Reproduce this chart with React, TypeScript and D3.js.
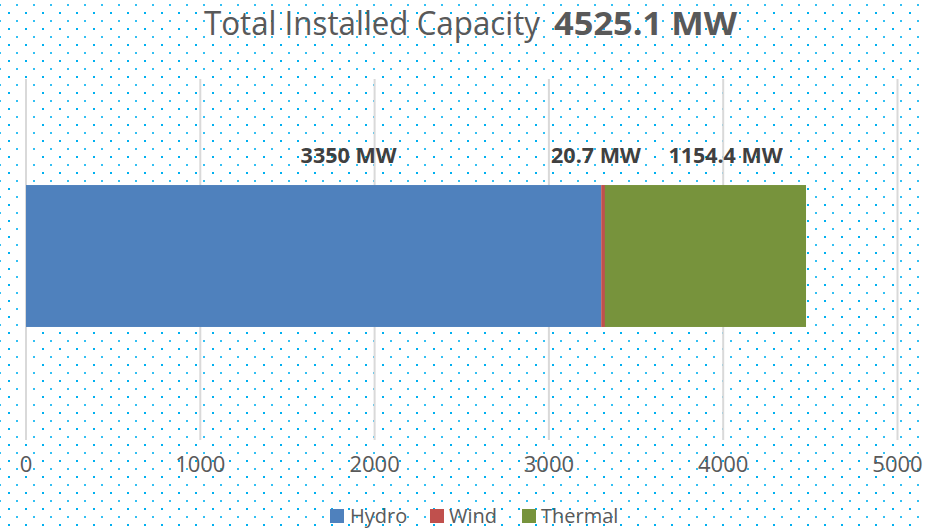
import React from "react";
import * as d3 from "d3";

const categories = ["Capacity"];
const seriesNames = ["Hydro", "Wind", "Thermal"];
const seriesValues = [3300, 20.7, 1154.4];
const seriesLabels = ["3350 MW", "20.7 MW", "1154.4 MW"];
const seriesColors = ["#4F81BD", "#C0504D", "#77933C"];
const tickValues = [0, 1000, 2000, 3000, 4000, 5000];
const titleMain = "Total Installed Capacity";
const titleBold = "4525.1 MW";

const W = 925;
const H = 528;
const labelOffsets = [35, -7, 20];
const labelLengths = [96, 90, 114];

export default function App() {
  const x = d3.scaleLinear().domain([0, 5000]).range([26, 897.5]);
  const p = 0.4276;
  const y = d3.scaleBand().domain(categories).range([79, 433]).paddingInner(p).paddingOuter(p);
  const stack = d3.stack<number[]>().keys(seriesNames.map((_, i) => String(i)))
    .value((d, k) => d[+k]);
  const stacked = stack([seriesValues]);
  const bw = y.bandwidth();
  const by = y(categories[0]) as number;

  const legendItems = [
    { sx: 330, tx: 350 },
    { sx: 430, tx: 449 },
    { sx: 522, tx: 541 },
  ];

  return (
    <svg width={W} height={H} style={{ position: "absolute", left: 0, top: 0 }}
      fontFamily="'Open Sans', sans-serif">
      <defs>
        <pattern id="dots" x={-1} y={0} width={17} height={16} patternUnits="userSpaceOnUse">
          <rect x={0} y={4} width={2} height={2} fill="#00B0F0" opacity={0.8} />
          <rect x={9} y={12} width={2} height={2} fill="#00B0F0" />
        </pattern>
      </defs>
      <rect x={0} y={0} width={W} height={H} fill="#ffffff" />
      <rect x={0} y={0} width={W} height={H} fill="url(#dots)" />

      {tickValues.map((t) => (
        <line key={"g" + t} x1={x(t)} x2={x(t)} y1={79} y2={440} stroke="#D9D9D9" strokeWidth={2} />
      ))}

      {stacked.map((s, i) => (
        <rect key={"b" + i} x={x(s[0][0])} width={Math.max(4, x(s[0][1]) - x(s[0][0]))} y={by} height={bw}
          fill={seriesColors[i]} />
      ))}

      {stacked.map((s, i) => (
        <text key={"l" + i} x={(x(s[0][0]) + x(s[0][1])) / 2 + labelOffsets[i]} y={163}
          textAnchor="middle" fontSize={22} fontWeight="bold" fill="#404040"
          textLength={labelLengths[i]} lengthAdjust="spacingAndGlyphs">
          {seriesLabels[i]}
        </text>
      ))}

      {tickValues.map((t) => (
        <text key={"t" + t} x={x(t)} y={472} textAnchor="middle" fontSize={22} fill="#595959">
          {t}
        </text>
      ))}

      <text x={204} y={35} fontSize={33} fill="#595959" textLength={336} lengthAdjust="spacingAndGlyphs">
        {titleMain}
      </text>
      <text x={554} y={35} fontSize={33} fontWeight="bold" fill="#595959" textLength={183}
        lengthAdjust="spacingAndGlyphs">
        {titleBold}
      </text>

      {seriesNames.map((n, i) => (
        <g key={"lg" + i}>
          <rect x={legendItems[i].sx} y={509} width={14} height={14} fill={seriesColors[i]} />
          <text x={legendItems[i].tx} y={523} fontSize={20} fill="#595959">{n}</text>
        </g>
      ))}
    </svg>
  );
}
